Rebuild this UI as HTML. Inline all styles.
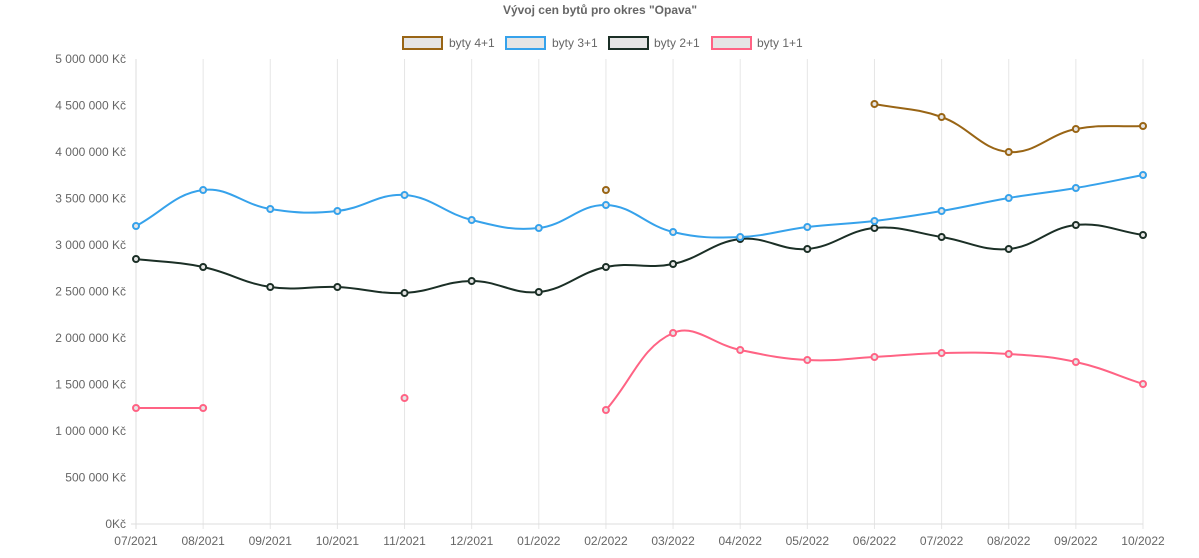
<!DOCTYPE html>
<html><head><meta charset="utf-8"><style>
body{margin:0;background:#fff;width:1199px;height:553px;overflow:hidden;font-family:"Liberation Sans",sans-serif}
svg text{font-family:"Liberation Sans",sans-serif}
</style></head><body>
<svg id="c" width="1199" height="553" xmlns="http://www.w3.org/2000/svg">
<text x="600" y="14" text-anchor="middle" font-size="12" font-weight="bold" fill="#666">Vývoj cen bytů pro okres "Opava"</text>
<g font-size="12" fill="#666">
<rect x="403" y="37" width="39" height="12" fill="#e5e5e5" stroke="#996515" stroke-width="2"/><text x="449" y="47">byty 4+1</text>
<rect x="506" y="37" width="39" height="12" fill="#e5e5e5" stroke="#36a2eb" stroke-width="2"/><text x="552" y="47">byty 3+1</text>
<rect x="609" y="37" width="39" height="12" fill="#e5e5e5" stroke="#1b2f26" stroke-width="2"/><text x="654" y="47">byty 2+1</text>
<rect x="712" y="37" width="39" height="12" fill="#e5e5e5" stroke="#ff6384" stroke-width="2"/><text x="757" y="47">byty 1+1</text>
</g>
<g id="grid"></g><g id="lines"></g>
</svg>
<script>
var s=document.getElementById('grid'),L=document.getElementById('lines'),ns='http://www.w3.org/2000/svg';
function el(p,t,a,txt){var e=document.createElementNS(ns,t);for(var k in a)e.setAttribute(k,a[k]);if(txt!=null)e.textContent=txt;p.appendChild(e);return e;}
var x0=136,dx=(1143-136)/15,y0=524,y5=59;
var labs=['07/2021','08/2021','09/2021','10/2021','11/2021','12/2021','01/2022','02/2022','03/2022','04/2022','05/2022','06/2022','07/2022','08/2022','09/2022','10/2022'];
for(var i=0;i<16;i++){var x=x0+i*dx;el(s,'line',{x1:x,x2:x,y1:y5,y2:y0+5,stroke:i==0?'#ddd':'#e6e6e6','stroke-width':1});
el(s,'text',{x:x,y:545,'text-anchor':'middle','font-size':12,fill:'#666'},labs[i]);}
el(s,'line',{x1:x0-5,x2:1143,y1:y0,y2:y0,stroke:'#ddd'});
var yl=['0Kč','500 000 Kč','1 000 000 Kč','1 500 000 Kč','2 000 000 Kč','2 500 000 Kč','3 000 000 Kč','3 500 000 Kč','4 000 000 Kč','4 500 000 Kč','5 000 000 Kč'];
for(var j=0;j<=10;j++){el(s,'text',{x:126,y:y0-j*(y0-y5)/10+4,'text-anchor':'end','font-size':12,fill:'#666'},yl[j]);}
var N=null;
var D=[
['#ff6384',[408,408,N,N,398,N,N,410,333,350,360,357,353,354,362,384]],
['#1b2f26',[259,267,287,287,293,281,292,267,264,239,249,228,237,249,225,235]],
['#36a2eb',[226,190,209,211,195,220,228,205,232,237,227,221,211,198,188,175]],
['#996515',[N,N,N,N,N,N,N,190,N,N,N,104,117,152,129,126]]];
D.forEach(function(d){var c=d[0],v=d[1],seg=[],segs=[];
for(var i=0;i<16;i++){if(v[i]==null){if(seg.length)segs.push(seg);seg=[];}else seg.push([x0+i*dx,v[i]]);}
if(seg.length)segs.push(seg);
segs.forEach(function(p){if(p.length<2)return;var t=0.4,cps=[];
for(var i=0;i<p.length;i++){var pr=p[i-1]||p[i],cu=p[i],nx=p[i+1]||p[i];
var d01=Math.hypot(cu[0]-pr[0],cu[1]-pr[1]),d12=Math.hypot(nx[0]-cu[0],nx[1]-cu[1]);
var s01=d01/(d01+d12)||0,s12=d12/(d01+d12)||0;var fa=t*s01,fb=t*s12;
cps.push([[cu[0]-fa*(nx[0]-pr[0]),cu[1]-fa*(nx[1]-pr[1])],[cu[0]+fb*(nx[0]-pr[0]),cu[1]+fb*(nx[1]-pr[1])]]);}
var dd='M'+p[0][0]+','+p[0][1];
for(var i=1;i<p.length;i++){dd+=' C'+cps[i-1][1][0]+','+cps[i-1][1][1]+' '+cps[i][0][0]+','+cps[i][0][1]+' '+p[i][0]+','+p[i][1];}
el(L,'path',{d:dd,fill:'none',stroke:c,'stroke-width':2});});
for(var i=0;i<16;i++)if(v[i]!=null)el(L,'circle',{cx:x0+i*dx,cy:v[i],r:3,fill:'#e5e5e5',stroke:c,'stroke-width':2});
});
</script>
</body></html>
